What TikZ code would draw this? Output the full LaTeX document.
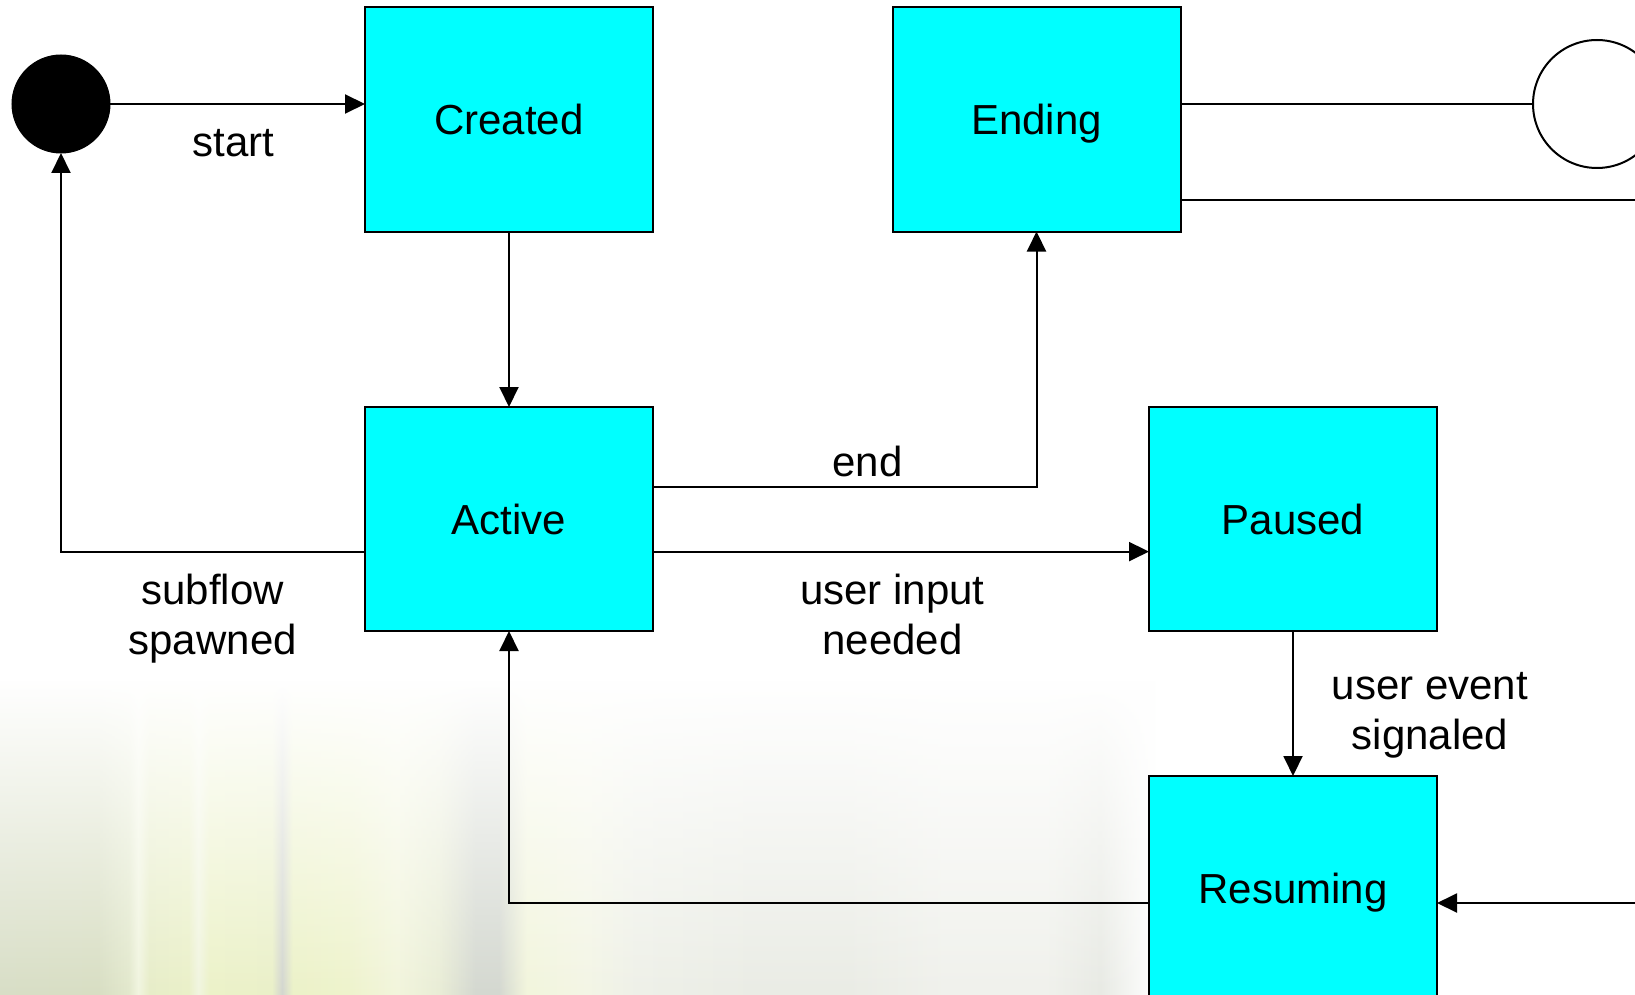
\documentclass[tikz,border=0pt]{standalone}
\usepackage{fontspec}
\setmainfont{Liberation Sans}
\usetikzlibrary{arrows.meta,fadings}

\definecolor{statefill}{HTML}{00FFFF}

% colours of the grass blades along the lower edge
\definecolor{gA}{HTML}{D8DEC6}
\definecolor{gB}{HTML}{D8DEC3}
\definecolor{gC}{HTML}{E2E8CC}
\definecolor{gW}{HTML}{F1F5E0}
\definecolor{gD}{HTML}{E7EDC8}
\definecolor{gE}{HTML}{EAF0C8}
\definecolor{gL}{HTML}{D3D6CF}
\definecolor{gF}{HTML}{ECF2C8}
\definecolor{gG}{HTML}{EEF3CC}
\definecolor{gH}{HTML}{E9EDD6}
\definecolor{gK}{HTML}{D4D8D0}
\definecolor{gM}{HTML}{F2F5DC}
\definecolor{gN}{HTML}{F3F5E5}
\definecolor{gP}{HTML}{EEF0E8}
\definecolor{gQ}{HTML}{EAECE5}
\definecolor{gR}{HTML}{F0F1EC}
\definecolor{gS}{HTML}{E8EAE4}

\pgfdeclarehorizontalshading{grass}{100bp}{
  color(0bp)=(gA); color(25bp)=(gA); color(29.31bp)=(gB); color(30.6bp)=(gC);
  color(31.03bp)=(gW); color(31.5bp)=(gD); color(33.2bp)=(gE);
  color(33.62bp)=(gW); color(34.1bp)=(gF); color(36.8bp)=(gE);
  color(37.24bp)=(gL); color(37.7bp)=(gF); color(40.1bp)=(gG);
  color(42.2bp)=(gM); color(44bp)=(gH); color(45.6bp)=(gK);
  color(46.6bp)=(gK); color(47.8bp)=(gM); color(50.4bp)=(gN);
  color(52.6bp)=(gP); color(57.8bp)=(gQ); color(61.6bp)=(gQ);
  color(66bp)=(gR); color(70.2bp)=(gR); color(72.6bp)=(gS);
  color(75bp)=(white); color(100bp)=(white)}

\tikzfading[name=rise, top color=transparent!100, middle color=transparent!72,
  bottom color=transparent!0]

\begin{document}
\begin{tikzpicture}[x=1pt,y=-1pt,
  state/.style={draw=black, line width=2pt, fill=statefill,
    minimum width=288pt, minimum height=224pt, inner sep=0pt, outer sep=0pt,
    text height=31pt, text depth=0pt,
    font=\fontsize{42}{50}\selectfont},
  initial/.style={circle, fill=black, draw=black, line width=1pt,
    minimum size=98pt, inner sep=0pt, outer sep=0pt},
  final/.style={circle, fill=white, draw=black, line width=2pt,
    minimum size=128pt, inner sep=0pt, outer sep=0pt},
  wire/.style={line width=2pt},
  arr/.style={wire, -{Triangle[length=20pt,width=19pt]}},
  lbl/.style={font=\fontsize{42}{50}\selectfont, align=center, inner sep=0pt}
]
\path[use as bounding box] (0,0) rectangle (1635,995);
\clip (0,0) rectangle (1635,995);
\fill[white] (0,0) rectangle (1635,995);

% soft grass along the lower edge, fading out upwards
\shade[shading=grass, path fading=rise] (0,680) rectangle (1160,995);

% states
\node[initial] (init) at (61,104) {};
\node[state] (created) at (509,119.5) {Created};
\node[state] (ending) at (1036.5,119.5) {Ending};
\node[final] (done) at (1597,104) {};
\node[state] (active) at (509,519) {Active};
\node[state] (paused) at (1293,519) {Paused};
\node[state] (resuming) at (1293,888) {Resuming};

\coordinate (edgeTop) at (1635,200);
\coordinate (edgeLow) at (1635,903);

% transitions
\draw[arr] (init.east) -- (init.east -| created.west);
\draw[arr] (created.south) -- (active.north);
\draw[arr] ([yshift=-32.6pt]active.west) -| (init.south);
\draw[arr] ([yshift=32pt]active.east) -| (ending.south);
\draw[arr] ([yshift=-32.6pt]active.east) -- ([yshift=-32.6pt]paused.west);
\draw[arr] (paused.south) -- (resuming.north);
\draw[arr] ([yshift=-15pt]resuming.west) -| (active.south);
\draw[arr] (edgeLow) -- ([yshift=-15pt]resuming.east);
\draw[wire] ([yshift=15.5pt]ending.east) -- (done.west);
\draw[wire] ([yshift=-80.5pt]ending.east) -- (edgeTop);

% transition labels
\node[lbl] (lstart) at (233.5,143) {start};
\node[lbl] (lsub) at (212.7,618.5) {subflow\\spawned};
\node[lbl] (lend) at (867.5,461) {end};
\node[lbl] (linput) at (892.5,614) {user input\\needed};
\node[lbl] (levent) at (1430,715) {user event\\signaled};
\end{tikzpicture}
\end{document}
